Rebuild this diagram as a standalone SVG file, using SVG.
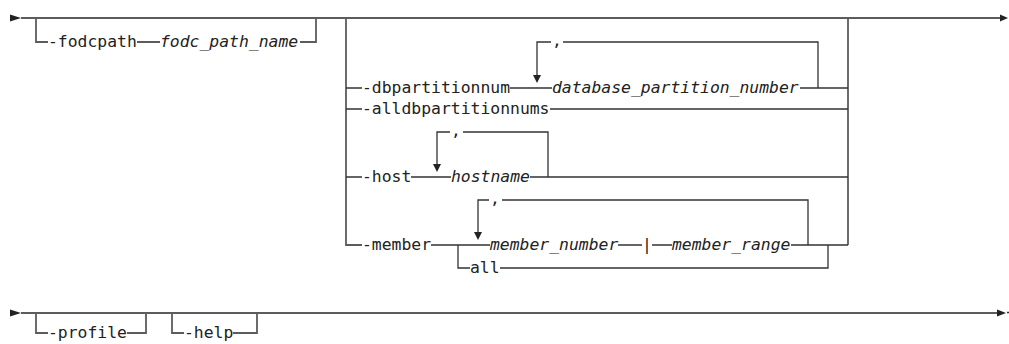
<svg xmlns="http://www.w3.org/2000/svg" width="1009" height="344" viewBox="0 0 1009 344">
<style>
.m{stroke:#5c5c5c;stroke-width:1.8;fill:none}
.c{stroke:#333;stroke-width:1.3;fill:none}
.t{font-family:"DejaVu Sans Mono","Liberation Mono",monospace;font-size:16.4px;fill:#222}
.i{font-style:italic}
.a{fill:#222}
</style>
<g id="connectors">
<polygon class="a" points="10,14.5 21,18 10,21.5"/>
<path class="m" d="M21,18H1001"/>
<polygon class="a" points="1000,14.5 1008,18 1000,21.5"/>
<path class="m" d="M36,18V42H48M137,42H160M300,42H316V18"/>
<path class="m" d="M346,18V245H362M848,18V245"/>
<path class="c" d="M346,88H362M510,88H552M800,88H848"/>
<path class="c" d="M537,76V42H551M563,42H818V88"/>
<polygon class="a" points="533,75 541,75 537,83"/>
<path class="c" d="M346,109H362M550,109H848"/>
<path class="c" d="M346,177H362M411,177H451M530,177H848"/>
<path class="c" d="M437,165V132H450M463,132H548V177"/>
<polygon class="a" points="433,164 441,164 437,172"/>
<path class="c" d="M431,245H490M618,245H642M652,245H672M791,245H848"/>
<path class="c" d="M478,233V200H489M502,200H808V245"/>
<polygon class="a" points="474,232 482,232 478,240"/>
<path class="c" d="M458,245V268H470M500,268H828V245"/>
<polygon class="a" points="10,309.5 21,313 10,316.5"/>
<path class="m" d="M21,313H998"/>
<polygon class="a" points="997,309.5 1006,313 997,316.5"/>
<path class="c" d="M1007,312.5H1009"/>
<path class="m" d="M36,313V333H48M127,333H146V313"/>
<path class="m" d="M172,313V333H184M233,333H257V313"/>
</g>
<g id="fodcpath"><text class="t" x="48" y="47">-fodcpath</text><text class="t i" x="160" y="47">fodc_path_name</text></g>
<g id="dbpartitionnum"><text class="t" x="362" y="93">-dbpartitionnum</text><text class="t" x="552" y="46">,</text><text class="t i" x="552" y="93">database_partition_number</text></g>
<g id="alldbpartitionnums"><text class="t" x="362" y="114">-alldbpartitionnums</text></g>
<g id="host"><text class="t" x="362" y="182">-host</text><text class="t" x="451" y="136">,</text><text class="t i" x="451" y="182">hostname</text></g>
<g id="member"><text class="t" x="362" y="250">-member</text><text class="t" x="490" y="204">,</text><text class="t i" x="490" y="250">member_number</text><text class="t" x="642" y="250">|</text><text class="t i" x="672" y="250">member_range</text><text class="t" x="470" y="273">all</text></g>
<g id="profile"><text class="t" x="48" y="338">-profile</text></g>
<g id="help"><text class="t" x="184" y="338">-help</text></g>
</svg>
